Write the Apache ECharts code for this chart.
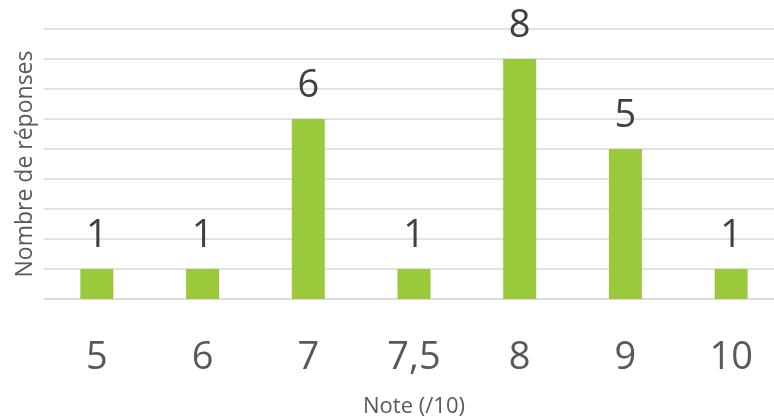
<!DOCTYPE html>
<html>
<head>
<meta charset="utf-8">
<script src="https://cdn.jsdelivr.net/npm/echarts@6/dist/echarts.min.js"></script>
<style>html,body{margin:0;padding:0;background:#fff}#c{width:774px;height:419px}</style>
</head>
<body>
<div id="c"></div>
<script>
const categories = ['5', '6', '7', '7,5', '8', '9', '10'];
const values = [1, 1, 6, 1, 8, 5, 1];
const xTitle = 'Note (/10)';
const yTitle = 'Nombre de réponses';

const chart = echarts.init(document.getElementById('c'), null, {renderer: 'canvas'});
chart.setOption({
  animation: false,
  grid: {left: 44, width: 740, top: 29, height: 270, containLabel: false, outerBoundsMode: 'none'},
  xAxis: {
    type: 'category',
    data: categories,
    name: xTitle,
    nameLocation: 'middle',
    nameGap: 97,
    nameTextStyle: {fontFamily: 'Open Sans', fontSize: 22, color: '#595959'},
    axisLine: {show: true, lineStyle: {color: '#D9D9D9', width: 1.5}},
    axisTick: {show: false},
    axisLabel: {fontFamily: 'Open Sans', fontSize: 38, color: '#595959', margin: 40}
  },
  yAxis: {
    type: 'value',
    min: 0, max: 9, interval: 1,
    name: yTitle,
    nameLocation: 'middle',
    nameRotate: 90,
    nameGap: 7,
    nameTextStyle: {fontFamily: 'Open Sans', fontSize: 23, color: '#595959'},
    axisLine: {show: false},
    axisTick: {show: false},
    axisLabel: {show: false},
    splitLine: {lineStyle: {color: '#D9D9D9', width: 1.5}}
  },
  series: [{
    type: 'bar',
    data: values,
    barWidth: 33,
    itemStyle: {color: '#9ACA3C'},
    label: {
      show: true, position: 'top', distance: 14,
      fontFamily: 'Open Sans', fontSize: 38, color: '#404040'
    }
  }]
});
</script>
</body>
</html>
